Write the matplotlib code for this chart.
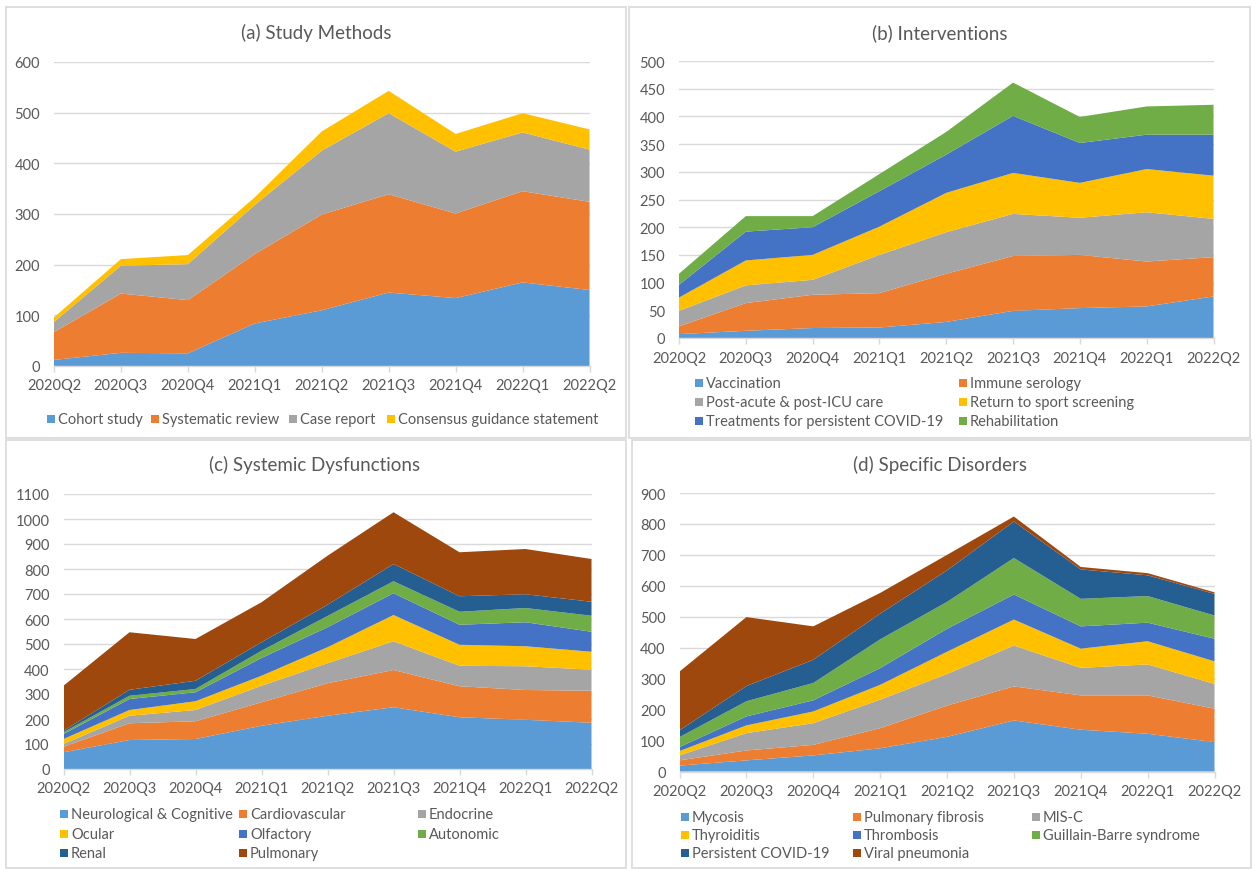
import matplotlib

matplotlib.use("Agg")
import matplotlib.pyplot as plt
from matplotlib.patches import Rectangle

plt.rcParams["font.family"] = ["Lato", "DejaVu Sans"]

W, H = 1252, 870

quarters = ["2020Q2", "2020Q3", "2020Q4", "2021Q1", "2021Q2",
            "2021Q3", "2021Q4", "2022Q1", "2022Q2"]

# ---- (a) Study Methods ----------------------------------------------------
methods_labels = ["Cohort study", "Systematic review", "Case report",
                  "Consensus guidance statement"]
cohort = [12, 26, 25, 84, 110, 145, 134, 165, 150]
systematic = [55, 117, 105, 137, 189, 194, 167, 180, 174]
case_report = [20, 55, 71, 97, 126, 160, 122, 116, 103]
consensus = [9, 13, 18, 15, 38, 44, 35, 38, 40]

# ---- (b) Interventions ----------------------------------------------------
interv_labels = ["Vaccination", "Immune serology", "Post-acute & post-ICU care",
                 "Return to sport screening", "Treatments for persistent COVID-19",
                 "Rehabilitation"]
vaccination = [7, 13, 18, 19, 29, 49, 54, 57, 75]
serology = [14, 50, 60, 62, 87, 99, 96, 81, 71]
post_acute = [28, 32, 27, 69, 75, 76, 67, 89, 69]
return_sport = [24, 45, 45, 51, 71, 74, 63, 78, 78]
treatments = [23, 52, 50, 64, 69, 103, 72, 62, 74]
rehab = [20, 28, 20, 31, 41, 60, 47, 51, 54]

# ---- (c) Systemic Dysfunctions --------------------------------------------
system_labels = ["Neurological & Cognitive", "Cardiovascular", "Endocrine",
                 "Ocular", "Olfactory", "Autonomic", "Renal", "Pulmonary"]
neuro = [67, 116, 120, 173, 213, 247, 207, 197, 185]
cardio = [22, 67, 71, 94, 130, 149, 124, 119, 128]
endocrine = [11, 30, 45, 66, 80, 115, 82, 95, 84]
ocular = [20, 23, 35, 40, 64, 105, 84, 80, 72]
olfactory = [20, 44, 36, 71, 80, 87, 80, 96, 80]
autonomic = [7, 13, 13, 29, 45, 48, 52, 57, 64]
renal = [6, 24, 33, 34, 45, 69, 62, 55, 56]
pulmonary = [180, 230, 167, 160, 196, 207, 176, 181, 171]

# ---- (d) Specific Disorders -----------------------------------------------
disorder_labels = ["Mycosis", "Pulmonary fibrosis", "MIS-C", "Thyroiditis",
                   "Thrombosis", "Guillain-Barre syndrome", "Persistent COVID-19",
                   "Viral pneumonia"]
mycosis = [19, 36, 52, 75, 112, 165, 135, 122, 95]
pulm_fibrosis = [17, 32, 34, 65, 101, 110, 111, 124, 108]
mis_c = [16, 56, 70, 92, 102, 132, 89, 100, 80]
thyroiditis = [14, 25, 38, 48, 72, 84, 62, 75, 73]
thrombosis = [13, 29, 36, 54, 74, 81, 72, 60, 73]
guillain = [32, 49, 56, 93, 87, 118, 89, 86, 75]
persistent = [22, 49, 75, 83, 102, 118, 95, 67, 70]
viral_pneu = [190, 223, 108, 67, 50, 16, 8, 7, 5]

# Office palette
C_BLUE, C_ORANGE, C_GRAY, C_GOLD = "#5B9BD5", "#ED7D31", "#A5A5A5", "#FFC000"
C_DBLUE, C_GREEN, C_NAVY, C_BROWN = "#4472C4", "#70AD47", "#255E91", "#9E480E"
PALETTE = [C_BLUE, C_ORANGE, C_GRAY, C_GOLD, C_DBLUE, C_GREEN, C_NAVY, C_BROWN]
TXT = "#595959"
GRID = "#D9D9D9"


def px_rect(x0, y0, x1, y1):
    """Pixel box (top-left origin) -> figure fraction [l, b, w, h]."""
    return [x0 / W, 1 - y1 / H, (x1 - x0) / W, (y1 - y0) / H]


def draw_panel(fig, box, series, title, title_xy, ymax, ystep):
    ax = fig.add_axes(px_rect(*box))
    x = range(len(quarters))
    ax.stackplot(x, *series, colors=PALETTE[: len(series)], linewidth=0)
    ax.set_xlim(0, len(quarters) - 1)
    ax.set_ylim(0, ymax)
    ax.set_yticks(range(0, ymax + 1, ystep))
    ax.set_xticks(list(x))
    ax.set_xticklabels(quarters)
    ax.grid(axis="y", color=GRID, linewidth=1)
    ax.set_axisbelow(True)
    for side in ("left", "right", "top"):
        ax.spines[side].set_visible(False)
    ax.spines["bottom"].set_color(GRID)
    ax.spines["bottom"].set_linewidth(1)
    ax.tick_params(axis="x", colors=GRID, labelcolor=TXT, length=4,
                   width=1, pad=5, labelsize=10.5)
    ax.tick_params(axis="y", length=0, pad=10, labelcolor=TXT, labelsize=10.5)
    fig.text(title_xy[0] / W, 1 - title_xy[1] / H, title, ha="center",
             va="center", fontsize=13.5, color=TXT)
    return ax


def draw_legend(fig, labels, ncol, col_x, row_y):
    """Excel-style legend: entries filled row by row in fixed-width columns."""
    for i, lab in enumerate(labels):
        cx = col_x[i % ncol]
        cy = row_y[i // ncol]
        fig.add_artist(Rectangle(((cx) / W, 1 - (cy + 4) / H), 8 / W, 8 / H,
                                 transform=fig.transFigure,
                                 color=PALETTE[i], lw=0))
        fig.text((cx + 11) / W, 1 - cy / H, lab, ha="left", va="center",
                 fontsize=10.5, color=TXT)


fig = plt.figure(figsize=(W / 100, H / 100), dpi=100)

# panel frames
for bx in [(6, 8, 626, 439), (629, 8, 1250, 439),
           (6, 441, 626, 869), (632, 441, 1251, 869)]:
    fig.add_artist(Rectangle((bx[0] / W, 1 - bx[3] / H), (bx[2] - bx[0]) / W,
                             (bx[3] - bx[1]) / H, transform=fig.transFigure,
                             fill=False, edgecolor="#D9D9D9", lw=1.2))

draw_panel(fig, (54, 63, 589.5, 367),
           [cohort, systematic, case_report, consensus],
           "(a) Study Methods", (316, 33), 600, 100)
draw_legend(fig, methods_labels, 4, [47, 151, 289, 387], [420])

draw_panel(fig, (679, 62, 1213.5, 339),
           [vaccination, serology, post_acute, return_sport, treatments, rehab],
           "(b) Interventions", (940, 33), 500, 50)
draw_legend(fig, interv_labels, 2, [695, 959], [384, 403, 422])

draw_panel(fig, (63.5, 495, 591.5, 770),
           [neuro, cardio, endocrine, ocular, olfactory, autonomic, renal, pulmonary],
           "(c) Systemic Dysfunctions", (315, 465), 1100, 100)
draw_legend(fig, system_labels, 3, [60, 239, 418], [815, 835, 854])

draw_panel(fig, (679.5, 494, 1214.5, 772.5),
           [mycosis, pulm_fibrosis, mis_c, thyroiditis, thrombosis, guillain,
            persistent, viral_pneu],
           "(d) Specific Disorders", (940, 465), 900, 100)
draw_legend(fig, disorder_labels, 3, [681, 853, 1032], [818, 836, 854])

fig.savefig("out.png", dpi=100)
